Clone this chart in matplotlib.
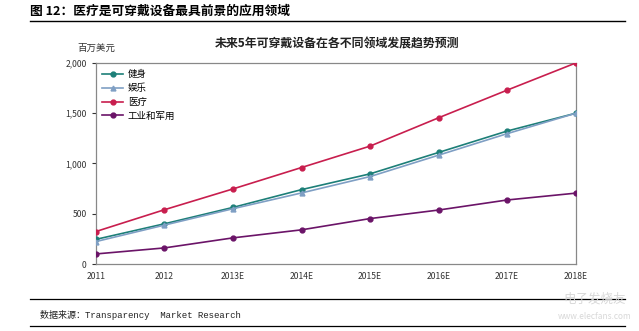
import matplotlib
matplotlib.use('Agg')
import matplotlib.pyplot as plt

plt.rcParams['font.family'] = ['Noto Sans CJK SC', 'DejaVu Sans']

years = ['2011', '2012', '2013E', '2014E', '2015E', '2016E', '2017E', '2018E']
fitness = [245, 400, 563, 740, 897, 1110, 1323, 1500]
entertainment = [223, 387, 550, 707, 870, 1083, 1297, 1500]
medical = [323, 540, 747, 960, 1173, 1455, 1730, 2000]
industrial = [100, 160, 260, 340, 452, 537, 637, 705]

series = [
    ('健身', fitness, '#1d7f78', 'o'),
    ('娱乐', entertainment, '#7f9fc4', '^'),
    ('医疗', medical, '#c81e4e', 'o'),
    ('工业和军用', industrial, '#6b1468', 'o'),
]

fig = plt.figure(figsize=(6.39, 3.31), dpi=100)
ax = fig.add_axes([0.150, 0.2024, 0.751, 0.6073])

xs = range(len(years))
for name, vals, color, mk in series:
    ax.plot(xs, vals, '-', color=color, lw=1.2, marker=mk, markersize=3.5,
            label=name, zorder=3)

ax.set_xlim(0, len(years) - 1)
ax.set_ylim(0, 2000)
ax.set_yticks([0, 500, 1000, 1500, 2000])
ax.set_yticklabels(['0', '500', '1,000', '1,500', '2,000'])
ax.set_xticks(list(xs))
ax.set_xticklabels(years)
ax.tick_params(axis='both', labelsize=6.2, colors='#333333', length=3, width=0.8)
ax.tick_params(axis='x', length=0, pad=6)
for sp in ax.spines.values():
    sp.set_color('#888888')
    sp.set_linewidth(0.9)

ax.legend(loc='upper left', frameon=False, fontsize=6.8, handlelength=2.2,
          labelspacing=0.5, borderaxespad=0.3, handletextpad=0.5)

# page header and captions
fig.text(0.047, 0.965, '图 12：医疗是可穿戴设备最具前景的应用领域', fontsize=9.2,
         fontweight='bold', va='center', ha='left')
fig.add_artist(plt.Line2D([0.047, 0.978], [0.938, 0.938], color='black', lw=1.0))
fig.text(0.527, 0.868, '未来5年可穿戴设备在各不同领域发展趋势预测', fontsize=8.6,
         fontweight='bold', va='center', ha='center', color='#222222')
fig.text(0.121, 0.855, '百万美元', fontsize=6.8, va='center', ha='left', color='#333333')

fig.add_artist(plt.Line2D([0.047, 0.978], [0.097, 0.097], color='black', lw=0.9))
fig.add_artist(plt.Line2D([0.047, 0.978], [0.016, 0.016], color='black', lw=0.9))
fig.text(0.063, 0.047, '数据来源：Transparency  Market Research', fontsize=6.5,
         family=['Liberation Mono', 'Noto Sans CJK SC'],
         va='center', ha='left', color='#222222')

# watermark
fig.text(0.93, 0.095, '电子发烧友', fontsize=9, va='center', ha='center',
         color='#d8d8d8', style='italic')
fig.text(0.93, 0.045, 'www.elecfans.com', fontsize=6, va='center', ha='center',
         color='#d8d8d8')

fig.savefig('out.png', dpi=100)
